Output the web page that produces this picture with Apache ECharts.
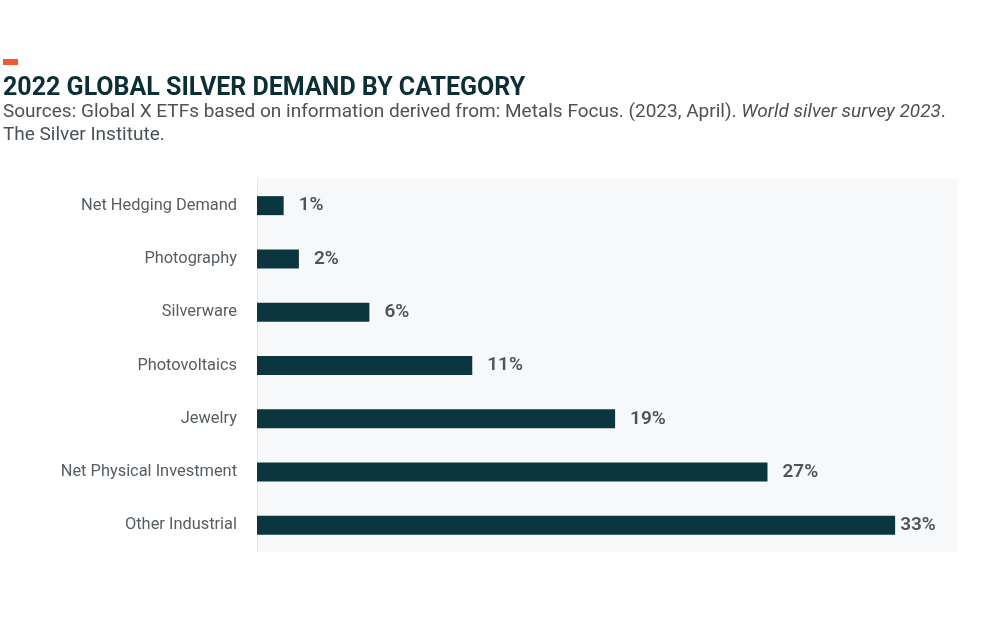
<!DOCTYPE html>
<html><head><meta charset="utf-8">
<script src="https://cdn.jsdelivr.net/npm/echarts@6/dist/echarts.min.js"></script>
<style>html,body{margin:0;padding:0;background:#fff}#c{width:1000px;height:625px}</style>
</head><body><div id="c"></div>
<script>
const categories = ["Net Hedging Demand","Photography","Silverware","Photovoltaics","Jewelry","Net Physical Investment","Other Industrial"];
const values = [1.4, 2.2, 5.9, 11.3, 18.8, 26.8, 33.5];
const valueLabels = ["1%","2%","6%","11%","19%","27%","33%"];
const titleText = "2022 GLOBAL SILVER DEMAND BY CATEGORY";
const sourceText1 = "Sources: Global X ETFs based on information derived from: Metals Focus. (2023, April). ";
const sourceItalic = "World silver survey 2023";
const sourceText2 = "The Silver Institute.";

const chart = echarts.init(document.getElementById('c'), null, {renderer:'canvas'});
const FONT = 'Roboto';
chart.setOption({
  animation:false,
  backgroundColor:'#fff',
  graphic:[
    {type:'rect', left:3, top:59, shape:{width:15,height:6}, style:{fill:'#f05a28'}},
    {type:'text', left:3, top:76, style:{text:titleText, font:'bold 25px Roboto', fill:'#0c2f36'}},
    {type:'text', left:3, top:103, style:{
      text:'{n|'+sourceText1+'}{i|'+sourceItalic+'}{n|.}\n{n|'+sourceText2+'}',
      rich:{n:{fontFamily:FONT,fontSize:19,fill:'#4a5257',lineHeight:23},
            i:{fontFamily:FONT,fontSize:19,fontStyle:'italic',fill:'#4a5257',lineHeight:23}}}}
  ],
  grid:{left:257, right:42, top:179, height:373, show:true, backgroundColor:'#f7f8fa', borderWidth:0},
  xAxis:{type:'value', min:0, max:36.8, show:false},
  yAxis:{type:'category', data:categories, inverse:true,
    axisLine:{show:true, lineStyle:{color:'#e3e6e8', width:1}},
    axisTick:{show:false},
    axisLabel:{color:'#555d63', fontFamily:FONT, fontSize:16.4, margin:20}},
  series:[{type:'bar', data:values.map((v,i)=>({value:v, label:{distance: i===values.length-1?5:15}})), barWidth:19,
    itemStyle:{color:'#0b363f'},
    label:{show:true, position:'right', formatter:p=>valueLabels[p.dataIndex],
      color:'#4d555a', fontFamily:FONT, fontSize:19, fontWeight:600}}]
});
</script></body></html>
